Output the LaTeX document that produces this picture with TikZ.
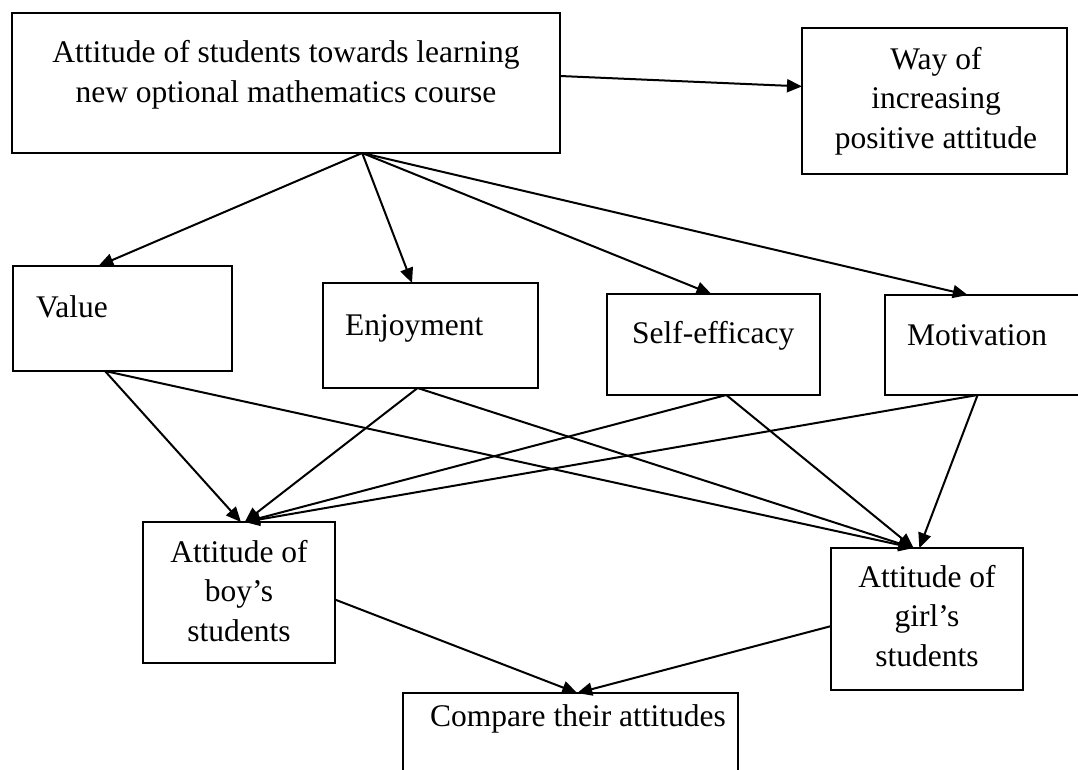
\documentclass[tikz,border=0pt]{standalone}
\usepackage{fontspec}
\setmainfont{Liberation Serif}
\usetikzlibrary{arrows.meta,calc}
\begin{document}
\begin{tikzpicture}[x=1pt,y=-1pt,
  box/.style={draw,line width=2.6pt,rectangle,inner sep=0pt,outer sep=0pt},
  lbl/.style={font=\fontsize{31.5}{39.5}\selectfont,inner sep=0pt,anchor=base,align=center},
  lbll/.style={font=\fontsize{31.5}{39.5}\selectfont,inner sep=0pt,anchor=base west},
  conn/.style={line width=2pt,-{Triangle[length=15pt,width=13pt]}}]
\clip (0,0) rectangle (1078,769);
\fill[white] (0,0) rectangle (1078,769);
% boxes
\node[box,minimum width=548pt,minimum height=140pt] (top) at (286,83) {};
\node[box,minimum width=265pt,minimum height=146pt] (way) at (934.5,101) {};
\node[box,minimum width=219pt,minimum height=105pt] (value) at (122.5,318.5) {};
\node[box,minimum width=215pt,minimum height=105pt] (enjoy) at (430.5,335.5) {};
\node[box,minimum width=213pt,minimum height=101pt] (self) at (713.5,344.5) {};
\node[box,minimum width=197pt,minimum height=100pt] (motiv) at (983.5,345) {};
\node[box,minimum width=192pt,minimum height=141pt] (boy) at (239,592.5) {};
\node[box,minimum width=192pt,minimum height=142pt] (girl) at (927,619) {};
\node[box,minimum width=335pt,minimum height=107pt] (cmp) at (570.5,746.5) {};
% texts (anchor = baseline of last line)
\node[lbl] (ttop) at (286,102) {Attitude of students towards learning\\new optional mathematics course};
\node[lbl] (tway) at (936,148) {Way of\\increasing\\positive attitude};
\node[lbll] (tvalue) at (36,317) {Value};
\node[lbll] (tenjoy) at (345,335) {Enjoyment};
\node[lbll] (tself) at (632,343) {Self-efficacy};
\node[lbll] (tmotiv) at (907,345) {Motivation};
\node[lbl] (tboy) at (239,641) {Attitude of\\boy’s\\students};
\node[lbl] (tgirl) at (927,666) {Attitude of\\girl’s\\students};
\node[lbl] (tcmp) at (578,726) {Compare their attitudes};
% anchor points
\coordinate (fan) at ($(top.south west)!0.639!(top.south east)$);
\coordinate (boyin) at ($(boy.north west)!0.53!(boy.north east)$);
\coordinate (boyinv) at ($(boy.north west)!0.51!(boy.north east)$);
\coordinate (girlin) at ($(girl.north west)!0.43!(girl.north east)$);
\coordinate (girlinm) at ($(girl.north west)!0.46!(girl.north east)$);
\coordinate (vout) at ($(value.south west)!0.42!(value.south east)$);
\coordinate (eout) at ($(enjoy.south west)!0.44!(enjoy.south east)$);
\coordinate (sout) at ($(self.south west)!0.56!(self.south east)$);
\coordinate (mout) at ($(motiv.south west)!0.47!(motiv.south east)$);
\coordinate (cmpin) at ($(cmp.north west)!0.52!(cmp.north east)$);
% connectors
\draw[conn] ($(top.north east)!0.45!(top.south east)$) -- ($(way.north west)!0.40!(way.south west)$);
\draw[conn] (fan) -- ($(value.north west)!0.39!(value.north east)$);
\draw[conn] (fan) -- ($(enjoy.north west)!0.414!(enjoy.north east)$);
\draw[conn] (fan) -- ($(self.north west)!0.49!(self.north east)$);
\draw[conn] (fan) -- ($(motiv.north west)!0.42!(motiv.north east)$);
\draw[conn] (vout) -- (boyinv);
\draw[conn] (vout) -- (girlin);
\draw[conn] (eout) -- (boyin);
\draw[conn] (eout) -- (girlin);
\draw[conn] (sout) -- (boyin);
\draw[conn] (sout) -- (girlin);
\draw[conn] (mout) -- (boyin);
\draw[conn] (mout) -- (girlinm);
\draw[conn] ($(boy.north east)!0.55!(boy.south east)$) -- (cmpin);
\draw[conn] ($(girl.north west)!0.55!(girl.south west)$) -- (cmpin);
\end{tikzpicture}
\end{document}
